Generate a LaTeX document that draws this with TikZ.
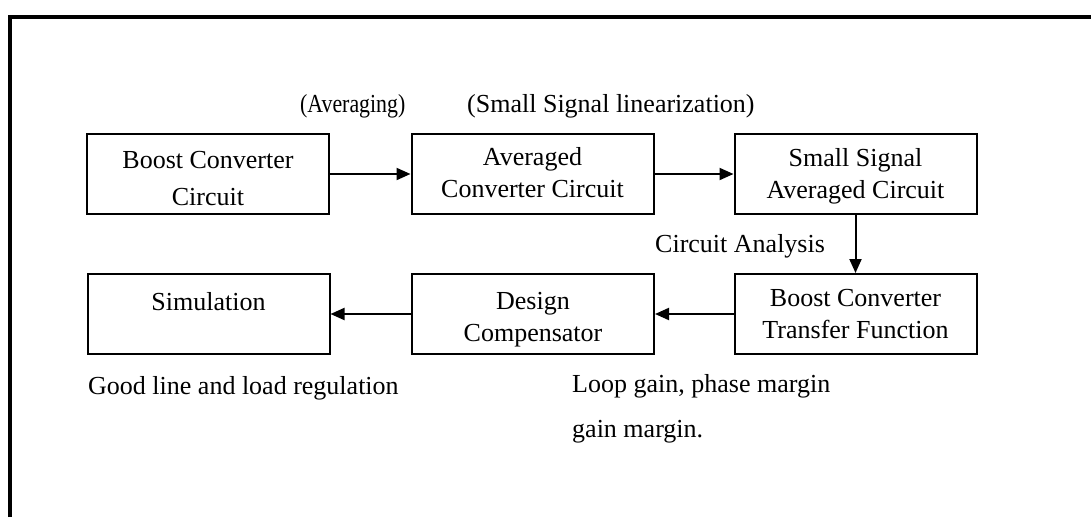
\documentclass[tikz,border=0pt]{standalone}
\usepackage{fontspec}
\setmainfont{Liberation Serif}
\usetikzlibrary{arrows.meta}
\newcommand\bxt[2]{\raisebox{#1}[\height][\depth]{\begin{tabular}{@{}c@{}}#2\end{tabular}}}
\begin{document}
\begin{tikzpicture}[x=1pt,y=-1pt,
  box/.style={draw, line width=2pt, minimum width=242pt, minimum height=80pt, align=center, inner sep=0pt, font=\fontsize{26}{32}\selectfont},
  lbl/.style={font=\fontsize{26}{45}\selectfont, inner sep=0pt, anchor=west, align=left},
  conn/.style={line width=2pt, -{Triangle[length=14pt,width=12pt]}}]
\useasboundingbox (0,0) rectangle (1091,517);
\fill[white] (0,0) rectangle (1091,517);
\draw[line width=3.5pt] (10,517) -- (10,17) -- (1091,17);

\node[box] (bcc)  at (208,174)   {\bxt{-7pt}{Boost Converter\\[5pt]Circuit}};
\node[box] (acc)  at (532.5,174) {\bxt{-1pt}{Averaged\\Converter Circuit}};
\node[box] (ssac) at (855.5,174) {\bxt{-2pt}{Small Signal\\Averaged Circuit}};
\node[box] (sim)  at (208.5,314) {\bxt{-6pt}{Simulation\\ \mbox{}}};
\node[box] (dc)   at (533,314)   {\bxt{-5pt}{Design\\Compensator}};
\node[box] (bctf) at (855.5,314) {\bxt{-2pt}{Boost Converter\\Transfer Function}};

\node[lbl] (avg) at (300,106) {\scalebox{0.84}[1]{(Averaging)}};
\node[lbl] (ssl) at (467,106) {(Small Signal linearization)};
\node[lbl] (ca)  at (655,246) {Circuit Analysis};
\node[lbl] (glr) at (88,388)  {Good line and load regulation};
\node[lbl] (lg)  at (572,409) {Loop gain, phase margin\\gain margin.};

\draw[conn] (bcc) -- (acc);
\draw[conn] (acc) -- (ssac);
\draw[conn] (ssac) -- (bctf);
\draw[conn] (bctf) -- (dc);
\draw[conn] (dc) -- (sim);
\end{tikzpicture}
\end{document}
